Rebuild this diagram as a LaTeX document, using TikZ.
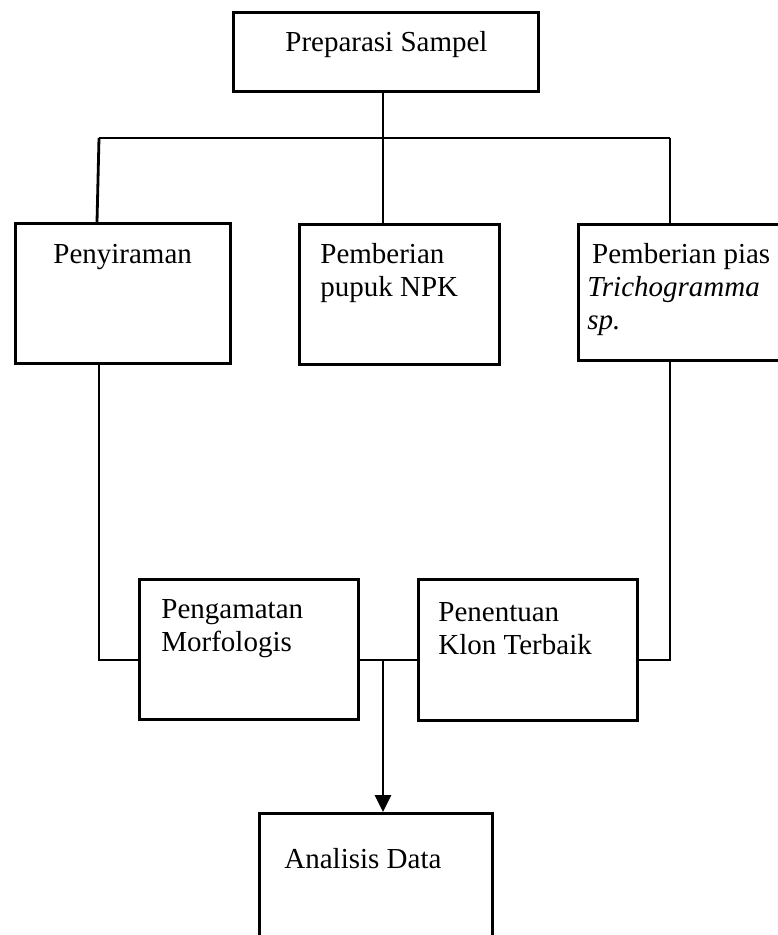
\documentclass[tikz,border=0pt]{standalone}
\usepackage{fontspec}
\setmainfont{Liberation Serif}
\usetikzlibrary{arrows.meta}
\begin{document}
\begin{tikzpicture}[x=1pt,y=-1pt,line width=2.8pt,
  box/.style={draw,rectangle,inner sep=0pt,anchor=north west},
  txt/.style={font=\fontsize{29}{33}\selectfont,inner sep=0pt,anchor=base west,align=left},
  conn/.style={draw,line width=2.8pt}]
\useasboundingbox (0,0) rectangle (778,935);
% boxes
\node[box,minimum width=305pt,minimum height=79pt] (prep) at (232,11) {};
\node[box,minimum width=215pt,minimum height=140pt] (siram) at (14,222) {};
\node[box,minimum width=200pt,minimum height=140pt] (npk) at (298,223) {};
\node[box,minimum width=210pt,minimum height=136pt] (pias) at (577,223) {};
\node[box,minimum width=219pt,minimum height=140pt] (amat) at (138,578) {};
\node[box,minimum width=219pt,minimum height=141pt] (tentu) at (417,578) {};
\node[box,minimum width=233pt,minimum height=140pt] (anal) at (258,812) {};
% texts (base anchor = baseline of last line)
\node[txt] (tprep) at (284,51) {Preparasi Sampel};
\node[txt] (tsiram) at (52,263) {Penyiraman};
\node[txt] (tnpk) at (319,296) {Pemberian\\pupuk NPK};
\node[txt] (tpias) at (586,329) {\,Pemberian pias\\\textit{Trichogramma}\\\textit{sp.}};
\node[txt] (tamat) at (160,651) {Pengamatan\\Morfologis};
\node[txt] (ttentu) at (437,654) {Penentuan\\Klon Terbaik};
\node[txt] (tanal) at (283,868) {Analisis Data};
% connectors
\coordinate (hub) at (383,138);
\coordinate (hl) at (99,138);
\coordinate (hr) at (670,138);
\draw[conn] (prep.south -| hub) -- (hub);
\draw[conn] (hl) -- (hr);
\draw[conn] (hl) -- (97,222);
\draw[conn] (hub) -- (hub |- npk.north);
\draw[conn] (hr) -- (hr |- pias.north);
\coordinate (ll) at (99,660);
\coordinate (rr) at (670,660);
\draw[conn] (99,362) -- (ll) -- (ll -| amat.west);
\draw[conn] (670,359) -- (rr) -- (rr -| tentu.east);
\coordinate (mid) at (383,660);
\draw[conn] (mid -| amat.east) -- (mid -| tentu.west);
\draw[conn,-{Triangle[length=17pt,width=16pt]}] (mid) -- (mid |- anal.north);
\end{tikzpicture}
\end{document}
